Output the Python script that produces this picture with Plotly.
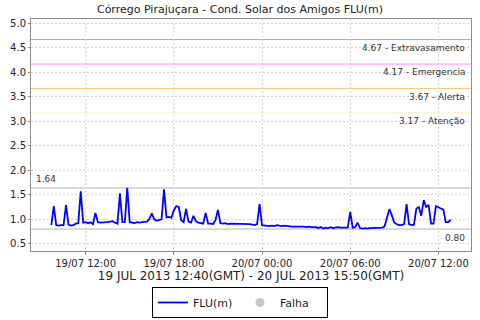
import pandas as pd
import plotly.graph_objects as go

# ---------------- data ----------------
start_time = "2013-07-19 09:40"
step_minutes = 10
flu_values = [
    0.88, 1.27, 0.88, 0.87, 0.88, 0.88, 1.29, 0.89, 0.87, 0.88,
    0.91, 0.92, 1.57, 0.93, 0.94, 0.92, 0.94, 0.90, 1.13, 0.94,
    0.93, 0.93, 0.94, 0.94, 0.95, 0.96, 0.93, 0.91, 1.53, 0.94,
    0.94, 1.64, 0.94, 0.93, 0.92, 0.94, 0.93, 0.94, 0.95, 0.95,
    1.00, 1.12, 1.00, 0.97, 0.98, 1.00, 1.61, 1.04, 1.05, 1.03,
    1.18, 1.27, 1.25, 0.98, 0.94, 1.21, 0.95, 0.93, 1.07, 0.96,
    0.93, 0.92, 0.91, 1.13, 0.91, 0.91, 0.90, 0.98, 1.19, 0.92,
    0.91, 0.92, 0.90, 0.91, 0.91, 0.90, 0.91, 0.91, 0.90, 0.90,
    0.91, 0.90, 0.89, 0.88, 0.90, 1.31, 0.88, 0.87, 0.87, 0.86,
    0.87, 0.86, 0.88, 0.87, 0.86, 0.87, 0.87, 0.86, 0.85, 0.85,
    0.86, 0.85, 0.85, 0.85, 0.84, 0.85, 0.84, 0.84, 0.84, 0.82,
    0.84, 0.81, 0.83, 0.82, 0.84, 0.82, 0.83, 0.84, 0.83, 0.83,
    0.83, 0.83, 1.15, 0.83, 0.84, 0.93, 0.82, 0.81, 0.82, 0.81,
    0.82, 0.82, 0.82, 0.82, 0.83, 0.83, 0.85, 1.02, 1.21, 1.08,
    0.93, 0.90, 0.88, 0.88, 0.90, 1.31, 0.90, 0.88, 0.89, 1.22,
    1.25, 1.07, 1.39, 1.25, 1.29, 0.91, 0.91, 1.27, 1.24, 1.22,
    1.20, 0.94, 0.94, 0.99,
]
times = pd.date_range(start_time, periods=len(flu_values), freq=f"{step_minutes}min")

threshold_values = [4.67, 4.17, 3.67, 3.17]
threshold_names = ["Extravasamento", "Emergencia", "Alerta", "Atenção"]
threshold_colors = ["#f08c8c", "#ff88ff", "#ffc27f", "#fff0a8"]

max_value = 1.64
min_value = 0.80

title_text = "Córrego Pirajuçara - Cond. Solar dos Amigos FLU(m)"
xaxis_title = "19 JUL 2013 12:40(GMT) - 20 JUL 2013 15:50(GMT)"
x_range = ["2013-07-19 08:17", "2013-07-20 14:13"]
y_range = [0.36, 5.09]
y_ticks = [0.5, 1.0, 1.5, 2.0, 2.5, 3.0, 3.5, 4.0, 4.5, 5.0]

FONT = "DejaVu Sans"

fig = go.Figure()
fig.add_trace(go.Scatter(
    x=times, y=flu_values, mode="lines", name="FLU(m)",
    line=dict(color="#0000ff", width=1.8),
))
fig.add_trace(go.Scatter(
    x=[None], y=[None], mode="markers", name="Falha",
    marker=dict(color="#c8c8c8", size=9, symbol="circle"),
))

# threshold lines + labels
for v, n, c in zip(threshold_values, threshold_names, threshold_colors):
    fig.add_hline(y=v, line=dict(color=c, width=1), layer="below")
    fig.add_annotation(
        xref="paper", x=1, y=v, yref="y", text=f"{v:.2f} - {n}",
        showarrow=False, xanchor="right", yanchor="middle",
        xshift=-4, yshift=-8, font=dict(family=FONT, size=9, color="#333333"),
    )

fig.add_hline(y=max_value, line=dict(color="#b4b4b4", width=1), layer="below")
fig.add_annotation(
    xref="paper", x=0, y=max_value, yref="y", text=f"{max_value:.2f}",
    showarrow=False, xanchor="left", yanchor="middle",
    xshift=3, yshift=9, font=dict(family=FONT, size=9, color="#333333"),
)
fig.add_hline(y=min_value, line=dict(color="#b4b4b4", width=1), layer="below")
fig.add_annotation(
    xref="paper", x=1, y=min_value, yref="y", text=f"{min_value:.2f}",
    showarrow=False, xanchor="right", yanchor="middle",
    xshift=-4, yshift=-9, font=dict(family=FONT, size=9, color="#333333"),
)

fig.update_layout(
    width=480, height=320,
    margin=dict(l=31, r=8, t=19, b=64),
    paper_bgcolor="white", plot_bgcolor="white",
    font=dict(family=FONT, size=10, color="#222222"),
    title=dict(text=title_text, x=0.5, xanchor="center", y=1 - 9 / 320,
               yanchor="middle", font=dict(family=FONT, size=11, color="#222222")),
    showlegend=True,
    legend=dict(
        orientation="h", xref="container", yref="container",
        x=0.5, xanchor="center", y=2 / 320, yanchor="bottom",
        bordercolor="#000000", borderwidth=1, bgcolor="white",
        font=dict(family=FONT, size=11, color="#222222"),
        itemwidth=30, tracegroupgap=0,
        entrywidth=42, entrywidthmode="pixels",
    ),
    xaxis=dict(
        range=x_range, type="date",
        tickformat="%d/%m %H:%M", dtick=6 * 3600 * 1000, tick0="2013-07-19 00:00",
        showgrid=True, gridcolor="#d4d4d4", griddash="2px,2px", gridwidth=1,
        showline=True, linecolor="#8c8c8c", linewidth=1, mirror=True,
        ticks="outside", ticklen=3, tickcolor="#8c8c8c",
        tickfont=dict(family=FONT, size=10, color="#222222"),
        title=dict(text=xaxis_title, standoff=2,
                   font=dict(family=FONT, size=12, color="#222222")),
        zeroline=False,
    ),
    yaxis=dict(
        range=y_range, tickvals=y_ticks, ticktext=[f"{t:.1f}" for t in y_ticks],
        showgrid=True, gridcolor="#d4d4d4", griddash="2px,2px", gridwidth=1,
        showline=True, linecolor="#8c8c8c", linewidth=1, mirror=True,
        ticks="outside", ticklen=2, tickcolor="#8c8c8c",
        tickfont=dict(family=FONT, size=10, color="#222222"),
        zeroline=False,
    ),
)

fig.write_html("out.html")
